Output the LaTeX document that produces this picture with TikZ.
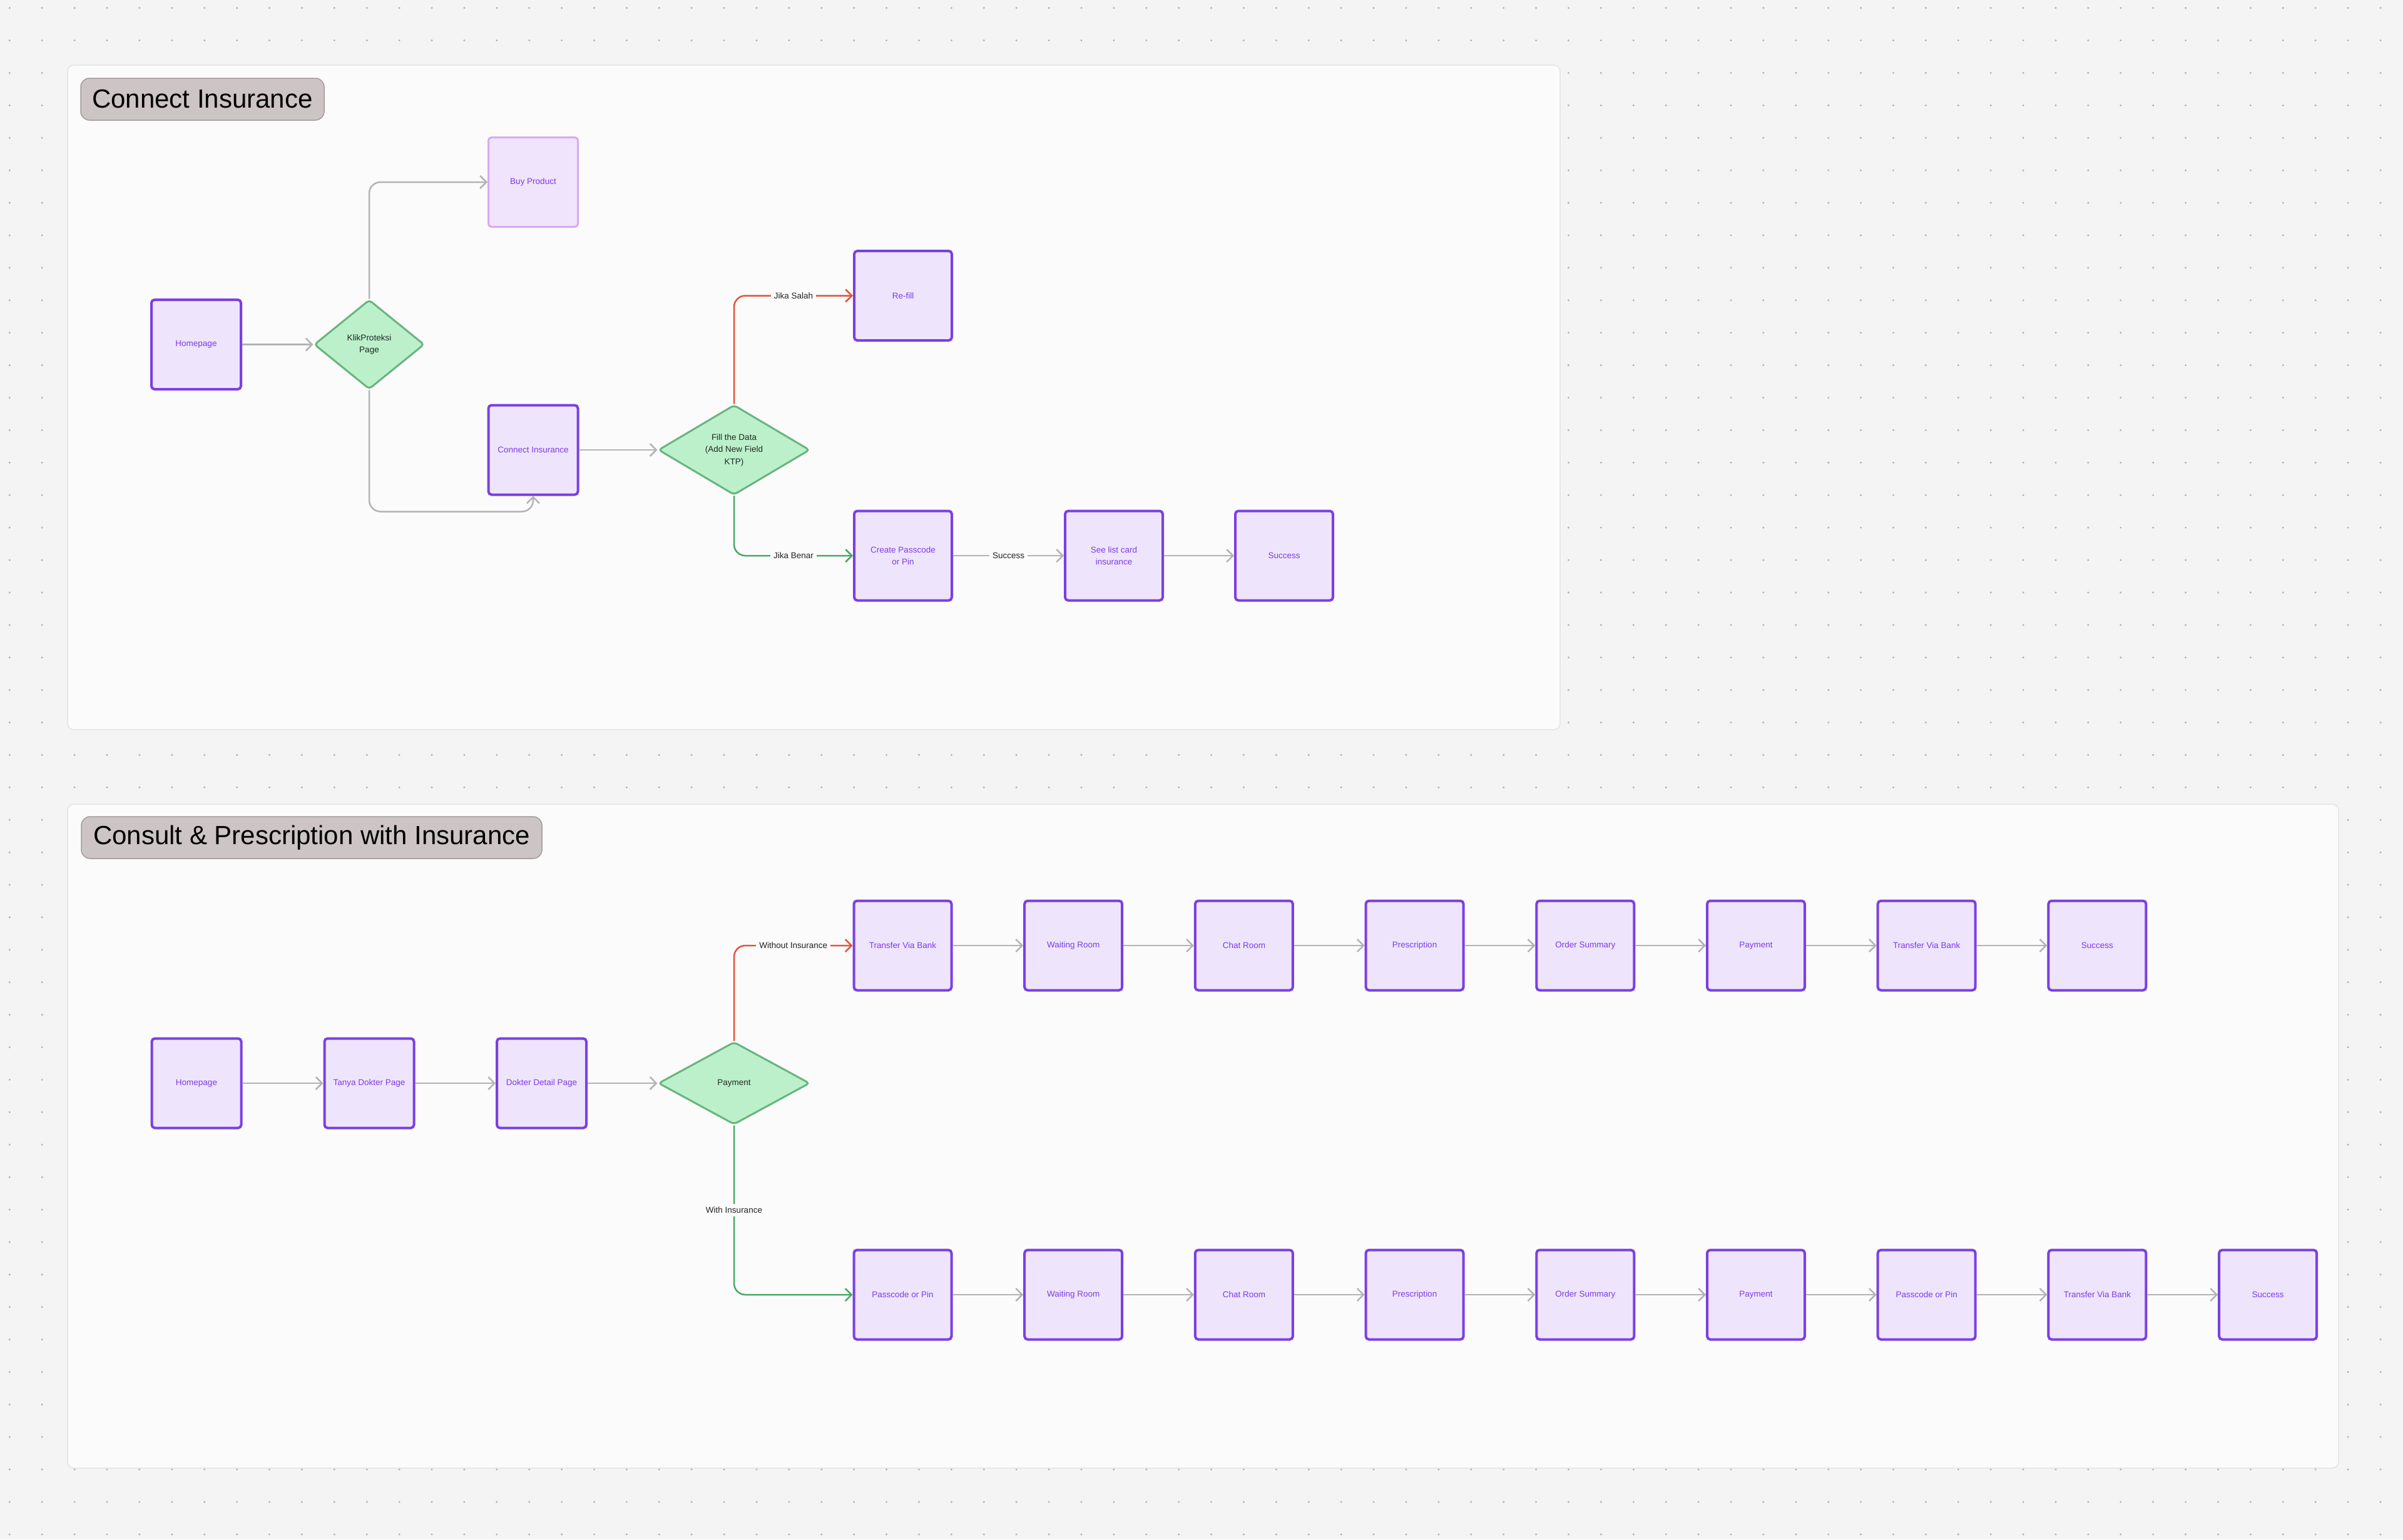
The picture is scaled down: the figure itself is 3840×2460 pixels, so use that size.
\documentclass[tikz,border=0pt]{standalone}
\usepackage{fontspec}
\setmainfont{Liberation Sans}
\usetikzlibrary{shapes.geometric,arrows.meta,calc}
\definecolor{bgc}{HTML}{F4F4F4}
\definecolor{dotc}{HTML}{B5B5B5}
\definecolor{panelc}{HTML}{FBFBFB}
\definecolor{panelb}{HTML}{E4E4E4}
\definecolor{badgec}{HTML}{CDC5C5}
\definecolor{badgeb}{HTML}{A39B9B}
\definecolor{boxb}{HTML}{7B3FE4}
\definecolor{boxf}{HTML}{EEE5FD}
\definecolor{boxt}{HTML}{7A3BE6}
\definecolor{buyb}{HTML}{D9A9F4}
\definecolor{buyf}{HTML}{EFE4FC}
\definecolor{decf}{HTML}{BCF0CB}
\definecolor{decb}{HTML}{68B57F}
\definecolor{dect}{HTML}{1E2A22}
\definecolor{linec}{HTML}{B3B3B3}
\definecolor{redc}{HTML}{E0553A}
\definecolor{greenc}{HTML}{47A866}
\definecolor{labt}{HTML}{222222}
\newcommand\smallf{\fontsize{13.5}{19.5}\selectfont}
\newcommand\titlef{\fontsize{42}{50}\selectfont}
\tikzset{
 page/.style={draw=boxb, fill=boxf, line width=4pt, rounded corners=5pt, minimum width=156pt, minimum height=143pt, inner sep=0pt, font=\smallf, text=boxt, align=center},
 narrow/.style={minimum width=143pt},
 buybox/.style={page, narrow, draw=buyb, fill=buyf, line width=3pt},
 decision/.style={diamond, draw=decb, fill=decf, line width=3pt, rounded corners=5pt, inner sep=0pt, font=\smallf, text=dect, align=center},
 flow/.style={draw=linec, line width=2.5pt, -{Straight Barb[length=10pt,width=20pt]}, rounded corners=18pt},
 redflow/.style={flow, draw=redc},
 greenflow/.style={flow, draw=greenc},
 lab/.style={fill=panelc, font=\smallf, text=labt, inner sep=5pt, rounded corners=0pt},
 panel/.style={fill=panelc, draw=panelb, line width=1.5pt, rounded corners=10pt},
 badge/.style={fill=badgec, draw=badgeb, line width=1.5pt, rounded corners=14pt, font=\titlef, text=black, inner sep=0pt},
}
\begin{document}
\begin{tikzpicture}[x=1pt,y=-1pt]
\useasboundingbox (0,0) rectangle (3840,2460);
\fill[bgc] (0,0) rectangle (3840,2460);
\foreach \i in {0,...,73}{
  \foreach \j in {0,...,47}{
    \fill[dotc] ({15.3+51.9*\i},{12.7+51.9*\j}) circle (1.7);
  }
}
% panels
\draw[panel] (108,104) rectangle (2493,1166);
\draw[panel] (108,1285) rectangle (3737,2346);
\node[badge, minimum width=389pt, minimum height=67pt] (title1) at (323.5,158.5) {Connect Insurance};
\node[badge, minimum width=736pt, minimum height=67pt] (title2) at (498,1338.5) {Consult \& Prescription with Insurance};

% ---- panel 1
\node[page, narrow] (home1) at (313.5,550.5) {Homepage};
\node[decision, minimum width=176pt, minimum height=143pt] (klik) at (590,550.5) {KlikProteksi\\Page};
\node[buybox] (buy) at (852,291) {Buy Product};
\node[page, narrow] (conn) at (852,719) {Connect Insurance};
\node[decision, minimum width=242pt, minimum height=131pt] (fill) at (1173,719) {Fill the Data\\(Add New Field\\KTP)};
\node[page] (refill) at (1443,472.5) {Re-fill};
\node[page] (create) at (1443,888) {Create Passcode\\or Pin};
\node[page] (seelist) at (1780,888) {See list card\\insurance};
\node[page] (succ1) at (2052,888) {Success};

\draw[flow] (home1) -- (klik);
\draw[flow] (klik.north) |- (buy.west);
\draw[flow] (klik.south) |- ($(conn.south)+(0,25)$) -- (conn.south);
\draw[flow] (conn) -- (fill);
\draw[redflow] (fill.north) |- node[lab,pos=0.75]{Jika Salah} (refill.west);
\draw[greenflow] (fill.south) |- node[lab,pos=0.75]{Jika Benar} (create.west);
\draw[flow] (create) -- node[lab]{Success} (seelist);
\draw[flow] (seelist) -- (succ1);

% ---- panel 2
\node[page, narrow] (home2) at (314,1731) {Homepage};
\node[page, narrow] (tanya) at (590,1731) {Tanya Dokter Page};
\node[page, narrow] (detail) at (865.5,1731) {Dokter Detail Page};
\node[decision, minimum width=242pt, minimum height=132pt] (pay) at (1173,1731) {Payment};

\node[page] (t1) at (1442.5,1511) {Transfer Via Bank};
\node[page] (t2) at (1715.2,1511) {Waiting Room};
\node[page] (t3) at (1987.9,1511) {Chat Room};
\node[page] (t4) at (2260.6,1511) {Prescription};
\node[page] (t5) at (2533.3,1511) {Order Summary};
\node[page] (t6) at (2806.0,1511) {Payment};
\node[page] (t7) at (3078.7,1511) {Transfer Via Bank};
\node[page] (t8) at (3351.4,1511) {Success};

\node[page] (b1) at (1442.5,2069) {Passcode or Pin};
\node[page] (b2) at (1715.2,2069) {Waiting Room};
\node[page] (b3) at (1987.9,2069) {Chat Room};
\node[page] (b4) at (2260.6,2069) {Prescription};
\node[page] (b5) at (2533.3,2069) {Order Summary};
\node[page] (b6) at (2806.0,2069) {Payment};
\node[page] (b7) at (3078.7,2069) {Passcode or Pin};
\node[page] (b8) at (3351.4,2069) {Transfer Via Bank};
\node[page] (b9) at (3624.1,2069) {Success};

\draw[flow] (home2) -- (tanya);
\draw[flow] (tanya) -- (detail);
\draw[flow] (detail) -- (pay);
\draw[redflow] (pay.north) |- node[lab,pos=0.75]{Without Insurance} (t1.west);
\draw[greenflow] (pay.south) |- node[lab,pos=0.25]{With Insurance} (b1.west);
\foreach \a/\b in {t1/t2,t2/t3,t3/t4,t4/t5,t5/t6,t6/t7,t7/t8}{
  \draw[flow] (\a) -- (\b);
}
\foreach \a/\b in {b1/b2,b2/b3,b3/b4,b4/b5,b5/b6,b6/b7,b7/b8,b8/b9}{
  \draw[flow] (\a) -- (\b);
}
\end{tikzpicture}
\end{document}
